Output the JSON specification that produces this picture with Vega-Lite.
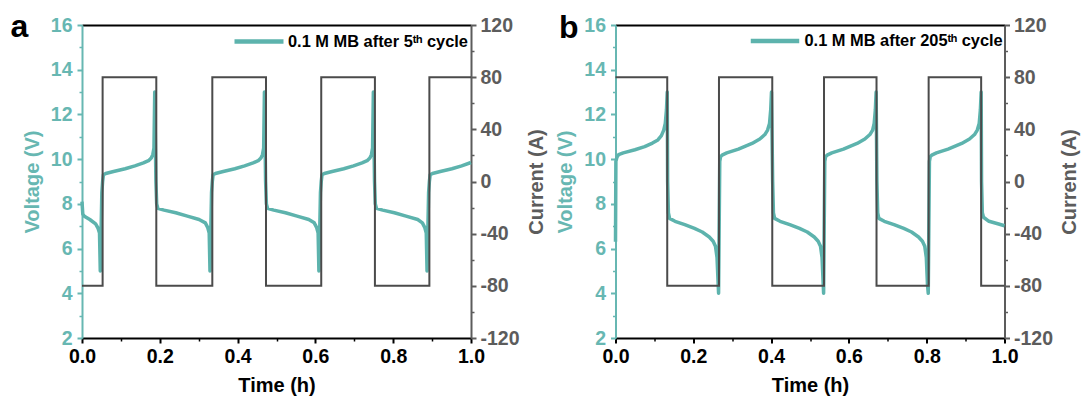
{
  "$schema": "https://vega.github.io/schema/vega-lite/v6.json",
  "background": "white",
  "padding": {"left": 10, "top": 10, "right": 2, "bottom": 2},
  "config": {
    "font": "Liberation Sans",
    "view": {"stroke": null},
    "concat": {"spacing": 8.5},
    "axis": {"labelFont": "Liberation Sans", "titleFont": "Liberation Sans", "grid": false}
  },
  "datasets": {
    "va": [
      {"t":0,"v":8.1},{"t":0.002,"v":7.55},{"t":0.006,"v":7.45},{"t":0.02,"v":7.3},{"t":0.035,"v":7.1},{"t":0.041,"v":6.92},{"t":0.045,"v":6.7},{"t":0.047,"v":5.0},{"t":0.051,"v":8.5},{"t":0.053,"v":9.0},{"t":0.055,"v":9.3},{"t":0.061,"v":9.36},{"t":0.081,"v":9.45},{"t":0.111,"v":9.57},{"t":0.136,"v":9.7},{"t":0.158,"v":9.83},{"t":0.171,"v":9.93},{"t":0.178,"v":10.05},{"t":0.182,"v":10.2},{"t":0.185,"v":10.5},{"t":0.187,"v":13.0},{"t":0.190,"v":9.0},{"t":0.192,"v":8.0},{"t":0.195,"v":7.8},{"t":0.211,"v":7.72},{"t":0.241,"v":7.6},{"t":0.271,"v":7.45},{"t":0.301,"v":7.3},
      {"t":0.317,"v":7.15},{"t":0.323,"v":6.95},{"t":0.327,"v":6.7},{"t":0.329,"v":5.0},{"t":0.333,"v":8.5},{"t":0.335,"v":9.0},{"t":0.337,"v":9.3},{"t":0.343,"v":9.36},{"t":0.363,"v":9.45},{"t":0.393,"v":9.57},{"t":0.418,"v":9.7},{"t":0.440,"v":9.83},{"t":0.453,"v":9.93},{"t":0.460,"v":10.05},{"t":0.464,"v":10.2},{"t":0.467,"v":10.5},{"t":0.469,"v":13.0},{"t":0.472,"v":9.0},{"t":0.474,"v":8.0},{"t":0.477,"v":7.8},{"t":0.493,"v":7.72},{"t":0.523,"v":7.6},{"t":0.553,"v":7.45},{"t":0.583,"v":7.3},
      {"t":0.597,"v":7.15},{"t":0.603,"v":6.95},{"t":0.607,"v":6.7},{"t":0.609,"v":5.0},{"t":0.613,"v":8.5},{"t":0.615,"v":9.0},{"t":0.617,"v":9.3},{"t":0.623,"v":9.36},{"t":0.643,"v":9.45},{"t":0.673,"v":9.57},{"t":0.698,"v":9.7},{"t":0.720,"v":9.83},{"t":0.733,"v":9.93},{"t":0.740,"v":10.05},{"t":0.744,"v":10.2},{"t":0.747,"v":10.5},{"t":0.749,"v":13.0},{"t":0.752,"v":9.0},{"t":0.754,"v":8.0},{"t":0.757,"v":7.8},{"t":0.773,"v":7.72},{"t":0.803,"v":7.6},{"t":0.833,"v":7.45},{"t":0.863,"v":7.3},
      {"t":0.875,"v":7.15},{"t":0.881,"v":6.95},{"t":0.885,"v":6.7},{"t":0.887,"v":5.0},{"t":0.891,"v":8.5},{"t":0.893,"v":9.0},{"t":0.895,"v":9.3},{"t":0.901,"v":9.36},{"t":0.921,"v":9.45},{"t":0.951,"v":9.57},{"t":0.976,"v":9.7},{"t":1.0,"v":9.85}
    ],
    "ca": [
      {"i":0,"t":0,"c":-80},{"i":1,"t":0.053,"c":-80},{"i":2,"t":0.053,"c":80},{"i":3,"t":0.191,"c":80},{"i":4,"t":0.191,"c":-80},{"i":5,"t":0.335,"c":-80},{"i":6,"t":0.335,"c":80},{"i":7,"t":0.473,"c":80},{"i":8,"t":0.473,"c":-80},{"i":9,"t":0.615,"c":-80},{"i":10,"t":0.615,"c":80},{"i":11,"t":0.753,"c":80},{"i":12,"t":0.753,"c":-80},{"i":13,"t":0.893,"c":-80},{"i":14,"t":0.893,"c":80},{"i":15,"t":1.0,"c":80}
    ],
    "vb": [
      {"t":0,"v":6.3},{"t":0.001,"v":9.9},{"t":0.004,"v":10.1},{"t":0.008,"v":10.2},{"t":0.02,"v":10.28},{"t":0.05,"v":10.42},{"t":0.075,"v":10.56},{"t":0.095,"v":10.72},{"t":0.109,"v":10.86},{"t":0.118,"v":11.05},{"t":0.124,"v":11.3},{"t":0.128,"v":11.6},{"t":0.131,"v":12.2},{"t":0.133,"v":13.0},
      {"t":0.134,"v":9.0},{"t":0.136,"v":7.6},{"t":0.139,"v":7.35},{"t":0.153,"v":7.22},{"t":0.178,"v":7.07},{"t":0.203,"v":6.9},{"t":0.223,"v":6.74},{"t":0.241,"v":6.52},{"t":0.251,"v":6.33},{"t":0.257,"v":6.1},{"t":0.261,"v":5.6},{"t":0.264,"v":4.4},{"t":0.265,"v":4.0},
      {"t":0.268,"v":9.9},{"t":0.270,"v":10.1},{"t":0.274,"v":10.18},{"t":0.286,"v":10.28},{"t":0.316,"v":10.45},{"t":0.351,"v":10.7},{"t":0.371,"v":10.9},{"t":0.384,"v":11.1},{"t":0.391,"v":11.3},{"t":0.396,"v":11.6},{"t":0.399,"v":12.2},{"t":0.401,"v":13.0},
      {"t":0.404,"v":9.0},{"t":0.406,"v":7.6},{"t":0.409,"v":7.35},{"t":0.423,"v":7.22},{"t":0.448,"v":7.07},{"t":0.473,"v":6.9},{"t":0.493,"v":6.74},{"t":0.511,"v":6.52},{"t":0.521,"v":6.33},{"t":0.527,"v":6.1},{"t":0.531,"v":5.6},{"t":0.534,"v":4.4},{"t":0.535,"v":4.0},
      {"t":0.538,"v":9.9},{"t":0.540,"v":10.1},{"t":0.544,"v":10.18},{"t":0.556,"v":10.28},{"t":0.586,"v":10.45},{"t":0.621,"v":10.7},{"t":0.641,"v":10.9},{"t":0.654,"v":11.1},{"t":0.661,"v":11.3},{"t":0.665,"v":11.6},{"t":0.668,"v":12.2},{"t":0.670,"v":13.0},
      {"t":0.672,"v":9.0},{"t":0.674,"v":7.6},{"t":0.677,"v":7.35},{"t":0.691,"v":7.22},{"t":0.716,"v":7.07},{"t":0.741,"v":6.9},{"t":0.761,"v":6.74},{"t":0.779,"v":6.52},{"t":0.789,"v":6.33},{"t":0.795,"v":6.1},{"t":0.799,"v":5.6},{"t":0.802,"v":4.4},{"t":0.804,"v":4.0},
      {"t":0.807,"v":9.9},{"t":0.809,"v":10.1},{"t":0.813,"v":10.18},{"t":0.825,"v":10.28},{"t":0.855,"v":10.45},{"t":0.890,"v":10.7},{"t":0.910,"v":10.9},{"t":0.923,"v":11.1},{"t":0.930,"v":11.3},{"t":0.935,"v":11.6},{"t":0.938,"v":12.2},{"t":0.940,"v":13.0},
      {"t":0.941,"v":9.0},{"t":0.943,"v":7.6},{"t":0.946,"v":7.4},{"t":0.960,"v":7.22},{"t":0.985,"v":7.1},{"t":1.0,"v":7.02}
    ],
    "cb": [
      {"i":0,"t":0,"c":80},{"i":1,"t":0.133,"c":80},{"i":2,"t":0.133,"c":-80},{"i":3,"t":0.266,"c":-80},{"i":4,"t":0.266,"c":80},{"i":5,"t":0.403,"c":80},{"i":6,"t":0.403,"c":-80},{"i":7,"t":0.536,"c":-80},{"i":8,"t":0.536,"c":80},{"i":9,"t":0.671,"c":80},{"i":10,"t":0.671,"c":-80},{"i":11,"t":0.805,"c":-80},{"i":12,"t":0.805,"c":80},{"i":13,"t":0.94,"c":80},{"i":14,"t":0.94,"c":-80},{"i":15,"t":1.0,"c":-80}
    ]
  },
  "resolve": {"scale": {"color": "independent"}, "legend": {"color": "independent"}},
  "hconcat": [
    {
      "width": 389, "height": 313,
      "resolve": {"scale": {"y": "independent"}, "axis": {"x": "independent", "y": "independent"}},
      "layer": [
        {
          "data": {"name": "va"},
          "mark": {"type": "line", "strokeWidth": 3.5, "strokeJoin": "round"},
          "encoding": {
            "x": {"field": "t", "type": "quantitative", "scale": {"domain": [0, 1], "nice": false, "zero": false},
              "axis": {"orient": "bottom", "values": [0, 0.2, 0.4, 0.6, 0.8, 1.0], "format": ".1f", "title": "Time (h)", "domainColor": "#000000", "domainWidth": 2, "tickColor": "#000000", "tickWidth": 2, "tickSize": 5, "labelColor": "#000000", "labelFontSize": 19.5, "labelFontWeight": "bold", "labelPadding": 4, "labelFlush": false, "labelOverlap": false, "titleFontSize": 20, "titleFontWeight": "bold", "titleColor": "#000000", "titlePadding": 10}},
            "y": {"field": "v", "type": "quantitative", "scale": {"domain": [2, 16], "nice": false, "zero": false},
              "axis": {"orient": "left", "values": [2, 4, 6, 8, 10, 12, 14, 16], "title": "Voltage (V)", "domainColor": "#67b7b2", "domainWidth": 2, "tickColor": "#67b7b2", "tickWidth": 2, "tickSize": 5, "labelColor": "#67b7b2", "labelFontSize": 19.5, "labelFontWeight": "bold", "labelPadding": 5, "labelFlush": false, "labelOverlap": false, "titleColor": "#67b7b2", "titleFontSize": 20, "titleFontWeight": "bold", "titlePadding": 8}},
            "color": {"datum": "0.1 M MB after 5ᵗʰ cycle", "type": "nominal", "scale": {"range": ["#5db3ad"]},
              "legend": {"orient": "none", "legendX": 150, "legendY": -10.5, "title": null, "symbolType": "stroke", "symbolSize": 2400, "symbolStrokeWidth": 4.5, "labelFontSize": 16.4, "labelFontWeight": "bold", "labelColor": "#000000", "labelFont": "Liberation Sans", "labelOffset": 2, "padding": 0, "labelLimit": 400}}
          }
        },
        {
          "data": {"name": "ca"},
          "mark": {"type": "line", "strokeWidth": 2, "color": "#4b4b4b"},
          "encoding": {
            "x": {"field": "t", "type": "quantitative", "axis": {"orient": "top", "domainColor": "#000000", "domainWidth": 2, "ticks": false, "labels": false, "title": "a", "titleX": -72, "titleY": 11, "titleAngle": 0, "titleAlign": "left", "titleBaseline": "alphabetic", "titleFontSize": 32, "titleFontWeight": "bold", "titleColor": "#000000"}},
            "y": {"field": "c", "type": "quantitative", "scale": {"domain": [-120, 120], "nice": false, "zero": false},
              "axis": {"orient": "right", "values": [-120, -80, -40, 0, 40, 80, 120], "labelExpr": "replace(datum.label, '\u2212', '-')", "title": "Current (A)", "titleAngle": 270, "titleBaseline": "top", "domainColor": "#5c5c5c", "domainWidth": 2, "tickColor": "#5c5c5c", "tickWidth": 2, "tickSize": 5, "labelColor": "#5c5c5c", "labelFontSize": 19.5, "labelFontWeight": "bold", "labelPadding": 4, "labelFlush": false, "labelOverlap": false, "titleColor": "#5c5c5c", "titleFontSize": 20, "titleFontWeight": "bold", "titlePadding": 7}},
            "order": {"field": "i", "type": "quantitative"}
          }
        },
        {
          "data": {"name": "va"},
          "mark": {"type": "line", "opacity": 0},
          "encoding": {
            "x": {"field": "t", "type": "quantitative", "axis": {"orient": "bottom", "values": [0.1, 0.3, 0.5, 0.7, 0.9], "domain": false, "labels": false, "title": null, "tickColor": "#000000", "tickWidth": 1.5, "tickSize": 3}},
            "y": {"field": "v", "type": "quantitative", "scale": {"domain": [2, 16], "nice": false, "zero": false},
              "axis": {"orient": "left", "values": [3, 5, 7, 9, 11, 13, 15], "domain": false, "labels": false, "title": null, "tickColor": "#67b7b2", "tickWidth": 1.5, "tickSize": 3}}
          }
        },
        {
          "data": {"name": "ca"},
          "mark": {"type": "line", "opacity": 0},
          "encoding": {
            "x": {"field": "t", "type": "quantitative", "axis": null},
            "y": {"field": "c", "type": "quantitative", "scale": {"domain": [-120, 120], "nice": false, "zero": false},
              "axis": {"orient": "right", "values": [-100, -60, -20, 20, 60, 100], "domain": false, "labels": false, "title": null, "tickColor": "#5c5c5c", "tickWidth": 1.5, "tickSize": 3}}
          }
        }
      ]
    },
    {
      "width": 389, "height": 313,
      "resolve": {"scale": {"y": "independent"}, "axis": {"x": "independent", "y": "independent"}},
      "layer": [
        {
          "data": {"name": "vb"},
          "mark": {"type": "line", "strokeWidth": 3.5, "strokeJoin": "round"},
          "encoding": {
            "x": {"field": "t", "type": "quantitative", "scale": {"domain": [0, 1], "nice": false, "zero": false},
              "axis": {"orient": "bottom", "values": [0, 0.2, 0.4, 0.6, 0.8, 1.0], "format": ".1f", "title": "Time (h)", "domainColor": "#000000", "domainWidth": 2, "tickColor": "#000000", "tickWidth": 2, "tickSize": 5, "labelColor": "#000000", "labelFontSize": 19.5, "labelFontWeight": "bold", "labelPadding": 4, "labelFlush": false, "labelOverlap": false, "titleFontSize": 20, "titleFontWeight": "bold", "titleColor": "#000000", "titlePadding": 10}},
            "y": {"field": "v", "type": "quantitative", "scale": {"domain": [2, 16], "nice": false, "zero": false},
              "axis": {"orient": "left", "values": [2, 4, 6, 8, 10, 12, 14, 16], "title": "Voltage (V)", "domainColor": "#67b7b2", "domainWidth": 2, "tickColor": "#67b7b2", "tickWidth": 2, "tickSize": 5, "labelColor": "#67b7b2", "labelFontSize": 19.5, "labelFontWeight": "bold", "labelPadding": 5, "labelFlush": false, "labelOverlap": false, "titleColor": "#67b7b2", "titleFontSize": 20, "titleFontWeight": "bold", "titlePadding": 8}},
            "color": {"datum": "0.1 M MB after 205ᵗʰ cycle", "type": "nominal", "scale": {"range": ["#5db3ad"]},
              "legend": {"orient": "none", "legendX": 133, "legendY": -10.5, "title": null, "symbolType": "stroke", "symbolSize": 2350, "symbolStrokeWidth": 4.5, "labelFontSize": 16.4, "labelFontWeight": "bold", "labelColor": "#000000", "labelFont": "Liberation Sans", "labelOffset": 3, "padding": 0, "labelLimit": 400}}
          }
        },
        {
          "data": {"name": "cb"},
          "mark": {"type": "line", "strokeWidth": 2, "color": "#4b4b4b"},
          "encoding": {
            "x": {"field": "t", "type": "quantitative", "axis": {"orient": "top", "domainColor": "#000000", "domainWidth": 2, "ticks": false, "labels": false, "title": "b", "titleX": -57, "titleY": 12, "titleAngle": 0, "titleAlign": "left", "titleBaseline": "alphabetic", "titleFontSize": 32, "titleFontWeight": "bold", "titleColor": "#000000"}},
            "y": {"field": "c", "type": "quantitative", "scale": {"domain": [-120, 120], "nice": false, "zero": false},
              "axis": {"orient": "right", "values": [-120, -80, -40, 0, 40, 80, 120], "labelExpr": "replace(datum.label, '\u2212', '-')", "title": "Current (A)", "titleAngle": 270, "titleBaseline": "top", "domainColor": "#5c5c5c", "domainWidth": 2, "tickColor": "#5c5c5c", "tickWidth": 2, "tickSize": 5, "labelColor": "#5c5c5c", "labelFontSize": 19.5, "labelFontWeight": "bold", "labelPadding": 4, "labelFlush": false, "labelOverlap": false, "titleColor": "#5c5c5c", "titleFontSize": 20, "titleFontWeight": "bold", "titlePadding": 7}},
            "order": {"field": "i", "type": "quantitative"}
          }
        },
        {
          "data": {"name": "vb"},
          "mark": {"type": "line", "opacity": 0},
          "encoding": {
            "x": {"field": "t", "type": "quantitative", "axis": {"orient": "bottom", "values": [0.1, 0.3, 0.5, 0.7, 0.9], "domain": false, "labels": false, "title": null, "tickColor": "#000000", "tickWidth": 1.5, "tickSize": 3}},
            "y": {"field": "v", "type": "quantitative", "scale": {"domain": [2, 16], "nice": false, "zero": false},
              "axis": {"orient": "left", "values": [3, 5, 7, 9, 11, 13, 15], "domain": false, "labels": false, "title": null, "tickColor": "#67b7b2", "tickWidth": 1.5, "tickSize": 3}}
          }
        },
        {
          "data": {"name": "cb"},
          "mark": {"type": "line", "opacity": 0},
          "encoding": {
            "x": {"field": "t", "type": "quantitative", "axis": null},
            "y": {"field": "c", "type": "quantitative", "scale": {"domain": [-120, 120], "nice": false, "zero": false},
              "axis": {"orient": "right", "values": [-100, -60, -20, 20, 60, 100], "domain": false, "labels": false, "title": null, "tickColor": "#5c5c5c", "tickWidth": 1.5, "tickSize": 3}}
          }
        }
      ]
    }
  ]
}
